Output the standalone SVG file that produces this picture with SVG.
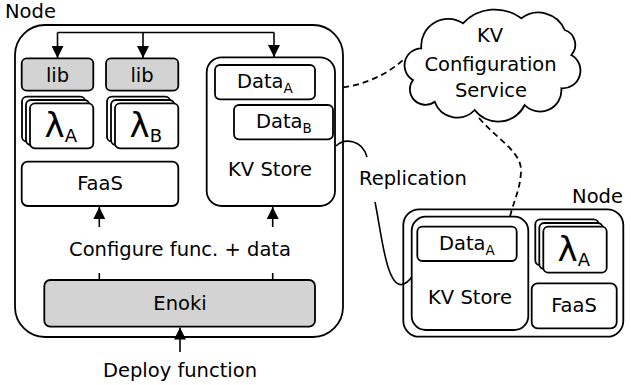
<svg xmlns="http://www.w3.org/2000/svg" width="631" height="385" viewBox="0 0 631 385">
<defs>
<style>
.b{fill:#fff;stroke:#000;stroke-width:1.8}
.g{fill:#d3d3d3;stroke:#000;stroke-width:1.8}
.ln{fill:none;stroke:#000;stroke-width:1.6}
.d{fill:none;stroke:#000;stroke-width:1.8;stroke-dasharray:6 4}
text{font-family:"DejaVu Sans",sans-serif;font-size:19.5px;fill:#000}
.c{text-anchor:middle}
.lam{font-size:34px}
.sub{font-size:13.5px}
.lsub{font-size:18px}
</style>
<marker id="ah" markerUnits="userSpaceOnUse" markerWidth="12" markerHeight="12" refX="12" refY="6" orient="auto">
<path d="M0,0 L12,6 L0,12 z" fill="#000"/>
</marker>
</defs>

<g id="node1">
<rect class="b" x="15" y="25" width="328" height="312" rx="30"/>
<text x="5" y="18">Node</text>
</g>

<g id="lib1"><rect class="g" x="21.7" y="58.3" width="71.6" height="32.4" rx="5"/><text class="c" x="57.5" y="81.5">lib</text></g>
<g id="lib2"><rect class="g" x="106" y="58.3" width="72.3" height="32.4" rx="5"/><text class="c" x="142" y="81.5">lib</text></g>

<g id="lambdaA">
<rect class="b" x="22" y="96.7" width="63.3" height="45" rx="5"/>
<rect class="b" x="26" y="100" width="63.3" height="45" rx="5"/>
<rect class="b" x="30" y="103.3" width="63.3" height="45" rx="5"/>
<text x="44.5" y="136.5"><tspan class="lam">λ</tspan><tspan class="lsub" dy="5">A</tspan></text>
</g>
<g id="lambdaB">
<rect class="b" x="107" y="96.7" width="63.3" height="45" rx="5"/>
<rect class="b" x="111" y="100" width="63.3" height="45" rx="5"/>
<rect class="b" x="115" y="103.3" width="63.3" height="45" rx="5"/>
<text x="129.5" y="136.5"><tspan class="lam">λ</tspan><tspan class="lsub" dy="5">B</tspan></text>
</g>

<g id="faas1"><rect class="b" x="21.7" y="161.7" width="156.6" height="44.3" rx="6"/><text class="c" x="100" y="190">FaaS</text></g>

<g id="kvstore1">
<rect class="b" x="206.7" y="57.3" width="128.3" height="148.7" rx="15"/>
<text class="c" x="270" y="176">KV Store</text>
</g>
<g id="dataA1"><rect class="b" x="215" y="65" width="100" height="34.3" rx="5"/><text x="237" y="88.3">Data<tspan class="sub" dy="4.5">A</tspan></text></g>
<g id="dataB1"><rect class="b" x="234" y="105" width="99" height="34.3" rx="5"/><text x="256" y="128.3">Data<tspan class="sub" dy="4.5">B</tspan></text></g>

<g id="enoki"><rect class="g" x="44.3" y="280" width="270.7" height="46.7" rx="6"/><text class="c" x="180" y="310">Enoki</text></g>

<g id="labels">
<text class="c" x="180" y="256">Configure func. + data</text>
<text class="c" x="180" y="377">Deploy function</text>
<text x="359" y="185">Replication</text>
</g>

<g id="cloud">
<path class="b" d="M421.3,48.3 A17,17 0 0 0 413,80 A15.5,15.5 0 0 0 434.7,101.7 A24,24 0 0 0 474.7,110 A29.5,29.5 0 0 0 524.7,105 A21.3,21.3 0 0 0 561.3,88.3 A17.8,17.8 0 0 0 571.3,55 A15.5,15.5 0 0 0 564.7,30 A28.5,28.5 0 0 0 521.3,18.3 A44,44 0 0 0 463,23.3 A27,27 0 0 0 421.3,48.3 Z"/>
<text class="c" x="490" y="41.7">KV</text>
<text class="c" x="490.5" y="70.5">Configuration</text>
<text class="c" x="491" y="97">Service</text>
</g>

<g id="node2">
<rect class="b" x="403.3" y="209.3" width="220" height="127.4" rx="16"/>
<text x="623" y="203" text-anchor="end">Node</text>
</g>
<g id="kvstore2">
<rect class="b" x="411.7" y="216.7" width="116.6" height="113.3" rx="14"/>
<text class="c" x="470" y="304">KV Store</text>
</g>
<g id="dataA2"><rect class="b" x="417.3" y="226.7" width="99.4" height="34.3" rx="5"/><text x="439" y="250">Data<tspan class="sub" dy="4.5">A</tspan></text></g>
<g id="lambdaA2">
<rect class="b" x="535.3" y="219.3" width="63.4" height="46" rx="5"/>
<rect class="b" x="539.3" y="223" width="63.4" height="46" rx="5"/>
<rect class="b" x="543.3" y="226.7" width="63.4" height="46" rx="5"/>
<text x="557.5" y="260.5"><tspan class="lam">λ</tspan><tspan class="lsub" dy="5">A</tspan></text>
</g>
<g id="faas2"><rect class="b" x="531.7" y="283.3" width="85" height="45" rx="6"/><text class="c" x="574" y="312">FaaS</text></g>

<g id="connectors">
<path class="ln" d="M57.5,32.5 H274"/>
<path class="ln" d="M57.5,32.5 V58" marker-end="url(#ah)"/>
<path class="ln" d="M143,32.5 V58" marker-end="url(#ah)"/>
<path class="ln" d="M274,32.5 V57" marker-end="url(#ah)"/>
<path class="ln" d="M99.3,227 V207" marker-end="url(#ah)"/>
<path class="ln" d="M272.7,227 V207" marker-end="url(#ah)"/>
<path class="ln" d="M99.3,273 V280"/>
<path class="ln" d="M272.7,273 V280"/>
<path class="ln" d="M180,352 V327.5" marker-end="url(#ah)"/>
<path class="d" d="M343.3,87.3 C363,85 387,75 404,59"/>
<path class="d" d="M479,118 C500,142 522,152 521,172 C520,190 514,200 510,216.7"/>
<path class="ln" d="M336,146 C344,138 362,139 367,157"/>
<path class="ln" d="M375,202 C381,230 386,287 402,284.5 C406,283.5 409,281 411.7,277"/>
</g>
</svg>
